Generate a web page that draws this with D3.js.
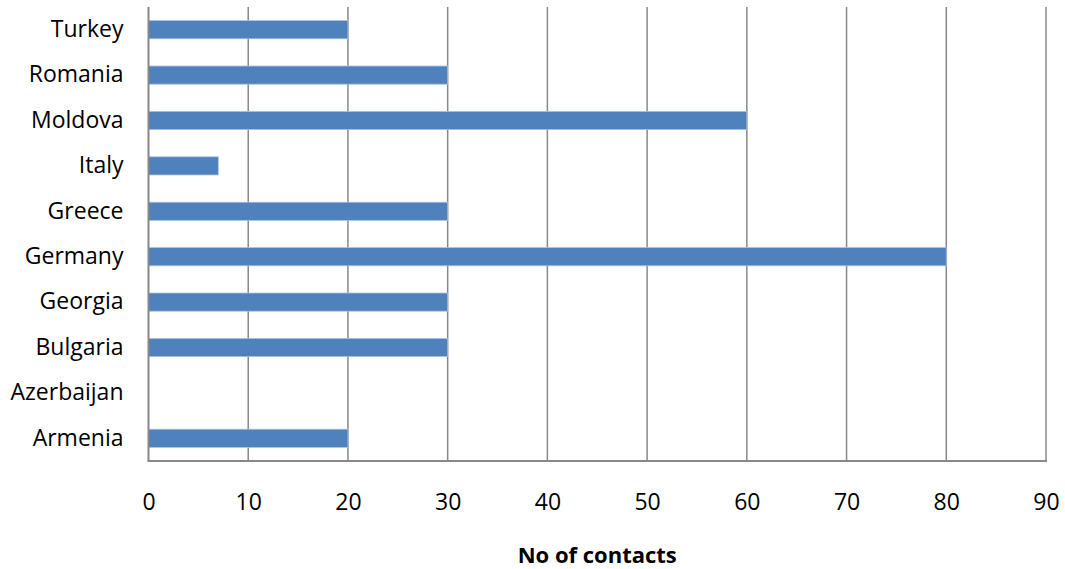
<!DOCTYPE html>
<html><head><meta charset="utf-8">
<script src="https://cdn.jsdelivr.net/npm/d3@7"></script>
<style>body{margin:0;background:#fff}svg{display:block}text{font-family:"Open Sans",sans-serif;fill:#000}</style>
</head><body><svg id="c" width="1065" height="569"></svg>
<script>
const categories = ["Armenia","Azerbaijan","Bulgaria","Georgia","Germany","Greece","Italy","Moldova","Romania","Turkey"];
const values = [20,0,30,30,80,30,7,60,30,20];
const xTicks = [0,10,20,30,40,50,60,70,80,90];
const xTitle = "No of contacts";
const FONT = '"Open Sans",sans-serif';
const FS = 23;

const svg = d3.select("#c");
const m = {l:148.5, r:1046, t:7, b:461};
const x = d3.scaleLinear().domain([0,90]).range([m.l, m.r]);
const y = d3.scaleBand().domain(categories.slice().reverse()).range([m.t, m.b]).paddingInner(0.6).paddingOuter(0.3);

// gridlines
svg.append("g").selectAll("line").data(xTicks.slice(1)).join("line")
  .attr("x1",d=>x(d)).attr("x2",d=>x(d)).attr("y1",m.t).attr("y2",m.b)
  .attr("stroke","#888").attr("stroke-width",1.5);

// bars
svg.append("g").selectAll("rect").data(categories.map((c,i)=>({c,v:values[i]})).filter(d=>d.v>0)).join("rect")
  .attr("x",x(0)).attr("y",d=>y(d.c)).attr("width",d=>x(d.v)-x(0)).attr("height",y.bandwidth())
  .attr("fill","#4F81BD").attr("stroke","#A9C1E0").attr("stroke-width",0.8);

// axes lines
svg.append("line").attr("x1",m.l).attr("x2",m.l).attr("y1",m.t).attr("y2",m.b).attr("stroke","#888").attr("stroke-width",2);
svg.append("line").attr("x1",m.l-1).attr("x2",m.r+1).attr("y1",m.b).attr("y2",m.b).attr("stroke","#888").attr("stroke-width",2);

// x labels
const xa = svg.append("g").attr("transform",`translate(0,${m.b})`).call(d3.axisBottom(x).tickValues(xTicks).tickSize(0).tickPadding(33));
xa.select(".domain").remove();
xa.selectAll("text").attr("font-size",FS).attr("font-family",FONT).attr("fill","#000");

// y labels
const ya = svg.append("g").attr("transform",`translate(${m.l},0)`).call(d3.axisLeft(y).tickSize(0).tickPadding(25));
ya.select(".domain").remove();
ya.selectAll("text").attr("font-size",FS).attr("font-family",FONT).attr("fill","#000");

svg.append("text").attr("x",(m.l+m.r)/2).attr("y",563).attr("text-anchor","middle")
  .attr("font-family",FONT).attr("font-size",22).attr("font-weight","bold").text(xTitle);
</script></body></html>
